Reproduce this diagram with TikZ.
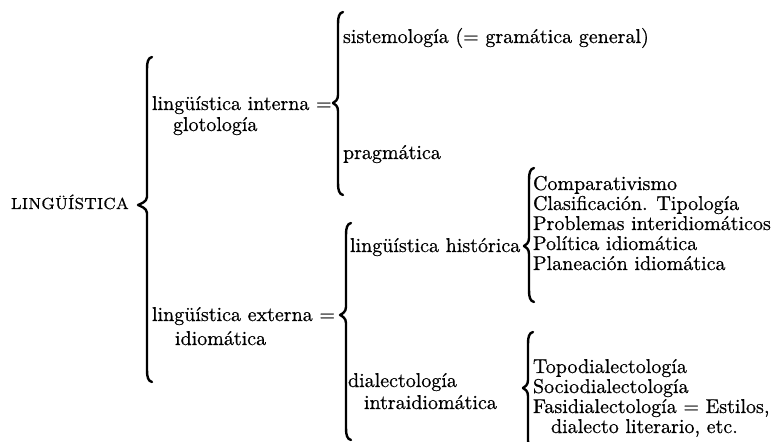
\documentclass[tikz,border=0pt]{standalone}
\usepackage{fontspec}
\setmainfont{Latin Modern Roman}[FakeBold=0.6]

% llave: x de la barra, arriba, x de la punta, y de la punta, abajo
\newcommand{\llave}[5]{%
  \draw[llave] (#1+5,#2) .. controls (#1+1,#2+1) and (#1,#2+5) .. (#1,#2+12)
    -- (#1,#4-8) .. controls (#1,#4-3) and (#3+2,#4-1) .. (#3,#4)
    .. controls (#3+2,#4+1) and (#1,#4+3) .. (#1,#4+8)
    -- (#1,#5-12) .. controls (#1,#5-5) and (#1+1,#5-1) .. (#1+5,#5);}

\begin{document}
\begin{tikzpicture}[x=0.5pt, y=-0.5pt, every node/.style={anchor=base west, inner sep=0pt, outer sep=0pt}, llave/.style={line width=1.2pt, line cap=round, line join=round}]
	\useasboundingbox (0,0) rectangle (775,442);
	
	% Raíz
	\node[font=\fontsize{8}{9}\selectfont\addfontfeatures{LetterSpace=2}] (ling) at (11,209) {LINGÜÍSTICA};
	\llave{147}{57}{138}{205}{382}
	
	% Lingüística interna
	\node (interna) at (152,110) {lingüística interna =};
	\node (glot) at (173,131) {glotología};
	\llave{338}{12}{333}{103}{195}
	\node (sistem) at (343,43) {sistemología (= gramática general)};
	\node (pragm) at (343,159) {pragmática};
	
	% Lingüística externa
	\node (externa) at (152,321) {lingüística externa =};
	\node (idiom) at (175,345) {idiomática};
	\llave{346}{223}{340}{315}{440}
	\node (hist) at (350,252) {lingüística histórica};
	\node (dialect) at (348,387) {dialectología};
	\node (intra) at (364,409) {intraidiomática};
	
	% Lingüística histórica
	\llave{529}{168}{524}{246}{302}
	\node (comp) at (533,190) {Comparativismo};
	\node (clasif) at (533,210) {Clasificación. Tipología};
	\node (probl) at (533,230) {Problemas interidiomáticos};
	\node (polit) at (533,250) {Política idiomática};
	\node (planea) at (533,270) {Planeación idiomática};
	
	% Dialectología intraidiomática
	\llave{528}{332}{523}{388}{452}
	\node (topo) at (533,373) {Topodialectología};
	\node (socio) at (533,393) {Sociodialectología};
	\node (fasi) at (533,413) {Fasidialectología = Estilos,};
	\node (literario) at (551,433) {dialecto literario, etc.};
\end{tikzpicture}
\end{document}
